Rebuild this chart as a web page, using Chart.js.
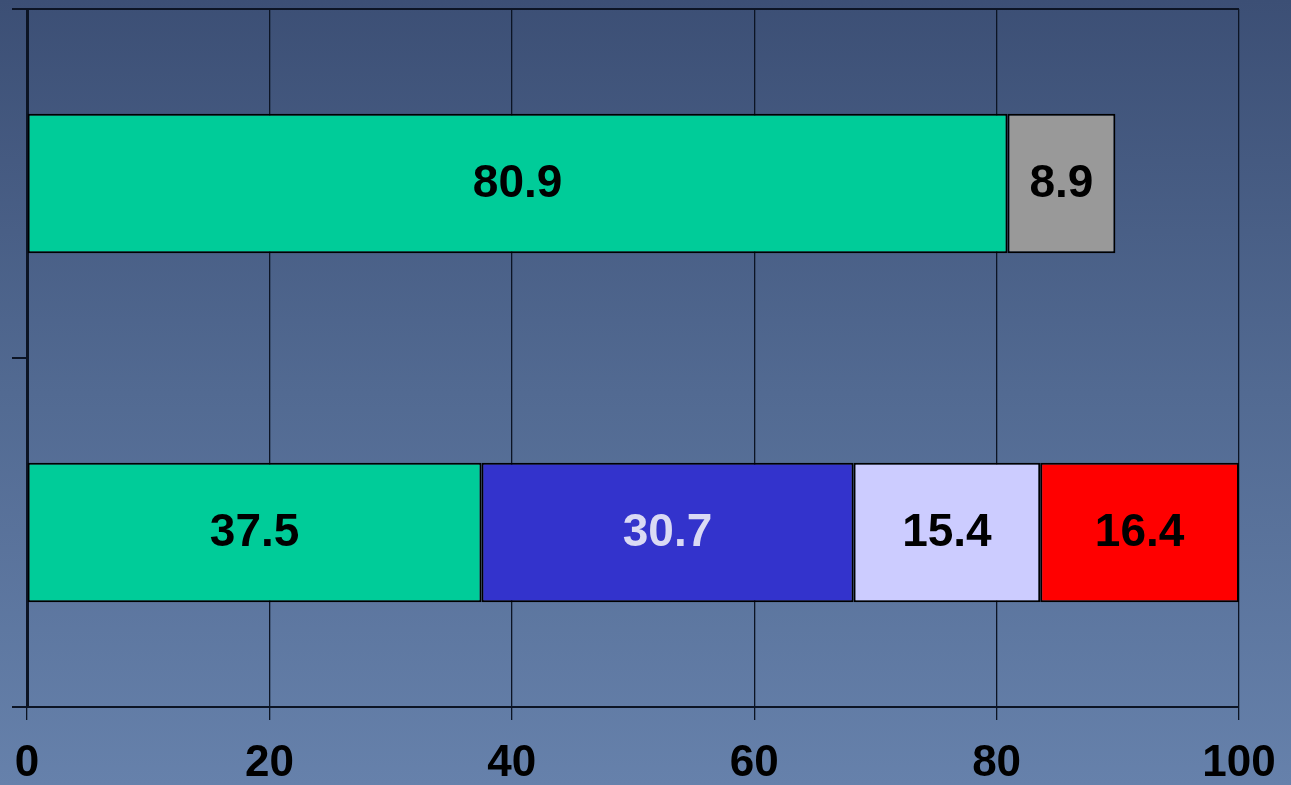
<!DOCTYPE html>
<html>
<head>
<meta charset="utf-8">
<title>Stacked shares</title>
<script src="https://cdn.jsdelivr.net/npm/chart.js@4.4.1/dist/chart.umd.min.js"></script>
<style>
  html, body { margin: 0; padding: 0; }
  body { background: linear-gradient(to bottom, #3c4f75 0%, #526a92 50%, #6681ab 100%); }
  #wrap { position: relative; width: 1291px; height: 785px; }
</style>
</head>
<body>
<div id="wrap"><canvas id="shareChart"></canvas></div>
<script>
// categories (top bar first) and the stacked segment values
const categories = ['Row A', 'Row B'];
const greenVals = [80.9, 37.5];
const grayVals = [8.9, null];
const blueVals = [null, 30.7];
const lavenderVals = [null, 15.4];
const redVals = [null, 16.4];
const xTicks = [0, 20, 40, 60, 80, 100];

const LINE = '#0c1424';
const FONT = "'Liberation Sans', Arial, sans-serif";

function segment(data, fill, labelColor) {
  return {
    data,
    backgroundColor: fill,
    borderColor: '#000',
    borderWidth: 2,
    borderSkipped: false,
    labelColor,
    barPercentage: 0.4,
    categoryPercentage: 1
  };
}

// writes each segment's value in the middle of its bar
const valueLabels = {
  id: 'valueLabels',
  afterDatasetsDraw(chart) {
    const ctx = chart.ctx;
    ctx.save();
    ctx.font = `bold 46px ${FONT}`;
    ctx.textAlign = 'center';
    ctx.textBaseline = 'middle';
    chart.data.datasets.forEach((ds, i) => {
      chart.getDatasetMeta(i).data.forEach((bar, j) => {
        const v = ds.data[j];
        if (v == null) return;
        const cx = (bar.x + bar.base) / 2;
        ctx.fillStyle = ds.labelColor;
        ctx.fillText(v.toFixed(1), cx, bar.y + 1);
      });
    });
    ctx.restore();
  }
};

new Chart(document.getElementById('shareChart'), {
  type: 'bar',
  data: {
    labels: categories,
    datasets: [
      segment(greenVals, '#00cc99', '#000'),
      segment(grayVals, '#999999', '#000'),
      segment(blueVals, '#3333cc', '#dadaf4'),
      segment(lavenderVals, '#ccccff', '#000'),
      segment(redVals, '#ff0000', '#000')
    ]
  },
  options: {
    indexAxis: 'y',
    responsive: true,
    maintainAspectRatio: false,
    animation: false,
    layout: { padding: { top: 9, right: 52, left: 0, bottom: 0 } },
    plugins: { legend: { display: false }, tooltip: { enabled: false } },
    scales: {
      x: {
        stacked: true,
        min: 0,
        max: 100,
        afterBuildTicks: s => { s.ticks = xTicks.map(v => ({ value: v })); },
        afterFit: s => {
          s.height = 78;
          // plot edges come from the layout padding, not the label overhang
          s.paddingLeft = 0;
          s.paddingRight = 0;
        },
        grid: { color: LINE, lineWidth: 1.3, tickLength: 13, tickColor: LINE },
        border: { color: LINE, width: 2 },
        ticks: {
          color: '#000',
          padding: 17,
          font: { family: FONT, size: 44, weight: 'bold' }
        }
      },
      y: {
        stacked: true,
        offset: true,
        afterFit: s => { s.width = 27; },
        grid: {
          offset: true,
          // only the top boundary runs across the plot
          color: c => (c.index === 0 ? LINE : 'rgba(0,0,0,0)'),
          lineWidth: 2,
          tickLength: 15,
          tickColor: LINE,
          tickWidth: 2
        },
        border: { color: LINE, width: 3 },
        ticks: { display: false }
      }
    }
  },
  plugins: [valueLabels]
});
</script>
</body>
</html>
